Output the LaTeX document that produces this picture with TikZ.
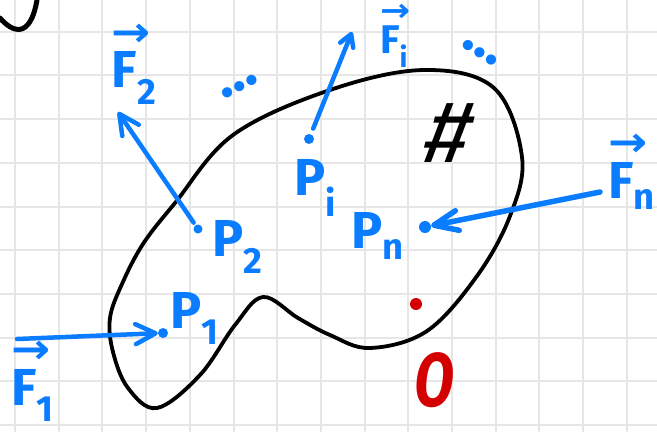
\documentclass[tikz,border=0pt]{standalone}
\usepackage{fontspec}
\setsansfont{Fira Sans}
\newfontfamily\arrowfont{DejaVu Sans}
\usetikzlibrary{arrows.meta}
\definecolor{fblue}{HTML}{0A7CFF}
\definecolor{ored}{HTML}{D40000}
\definecolor{gridgray}{HTML}{E6E6E6}
\newcommand{\vecF}[1]{\makebox[0pt][l]{\raisebox{0.8em}{\arrowfont\bfseries\scalebox{0.9}[0.8]{→}}}F\textsubscript{#1}}
\tikzset{
  force/.style={-{Straight Barb[length=20pt,width=20pt,round]}, line width=4.5pt, draw=fblue, line cap=round},
  pt/.style={circle, fill=fblue, inner sep=0pt, minimum size=10pt},
  lbl/.style={text=fblue, inner sep=0pt, font=\fontsize{52}{52}\selectfont\sffamily\bfseries},
  dots/.style={text=fblue, inner sep=0pt, font=\fontsize{56}{56}\selectfont\sffamily\bfseries},
}

\begin{document}
\begin{tikzpicture}[x=1pt, y=-1pt]
    \useasboundingbox (0,0) rectangle (657,432);
    \fill[white] (0,0) rectangle (657,432);
    % grid paper
    \foreach \k in {0,...,14} \draw[gridgray, line width=2pt] ({15+43.7*\k},0) -- ({15+43.7*\k},432);
    \foreach \k in {1,...,10} \draw[gridgray, line width=2pt] (0,{-12+43.7*\k}) -- (657,{-12+43.7*\k});

    % hook at the corner
    \draw[line width=5pt, line cap=round] (0,18) .. controls (12,32) and (30,40) .. (37,0);

    % the body
    \draw[line width=3.8pt, line join=round] plot[smooth cycle, tension=0.6] coordinates {
        (110,318) (122,284) (143,244) (175,203) (233,135) (330,90) (424,70) (494,88) (522,157)
        (510,216) (477,276) (427,331) (370,348) (330,335) (298,318) (263,297) (235,325)
        (200,375) (157,408) (128,388) (113,352)};
    \node (hash) at (450,133) [font=\fontsize{88}{88}\selectfont\sffamily, xslant=0.25, inner sep=0pt] {\#};

    % points
    \node (p1) at (163,333) [pt] {};
    \node (p2) at (198,229) [pt, minimum size=9pt] {};
    \node (pi) at (309,139) [pt] {};
    \node (pn) at (425,227) [pt, minimum size=12pt] {};
    \node (l1) at (195,318) [lbl] {P\textsubscript{1}};
    \node (l2) at (238,247) [lbl] {P\textsubscript{2}};
    \node (li) at (315,188) [lbl] {P\textsubscript{i}};
    \node (ln) at (378,236) [lbl] {P\textsubscript{n}};

    % forces
    \node (f1) at (33,381) [lbl] {\vecF{1}};
    \node (f2) at (134,64) [lbl] {\vecF{2}};
    \node (fi) at (394,36) [lbl, font=\fontsize{40}{40}\selectfont\sffamily\bfseries] {\vecF{i}};
    \node (fn) at (632,172) [lbl] {\vecF{n}};
    \coordinate (t1) at (17,339);
    \coordinate (h2) at (118,112);
    \coordinate (hi) at (352,32);
    \coordinate (tn) at (600,192);

    \draw[force] (t1) -- (p1);
    \draw[force, shorten <=3pt] (p2) -- (h2);
    \draw[force, -{Straight Barb[length=12pt,width=14pt,round]}, shorten <=6pt] (pi) -- (hi);
    \draw[force, line width=5.5pt, -{Straight Barb[length=24pt,width=20pt,round]}] (tn) -- (pn);

    \node (d1) at (240,87) [dots, rotate=27] {\ldots};
    \node (d2) at (480,53) [dots, rotate=-32] {\ldots};

    % origin
    \node (o) at (416,304) [circle, fill=ored, inner sep=0pt, minimum size=12pt] {};
    \node (lo) at (435,380) [text=ored, inner sep=0pt, xscale=0.75, xslant=0.15, font=\fontsize{76}{76}\selectfont\sffamily\bfseries] {O};
\end{tikzpicture}
\end{document}
